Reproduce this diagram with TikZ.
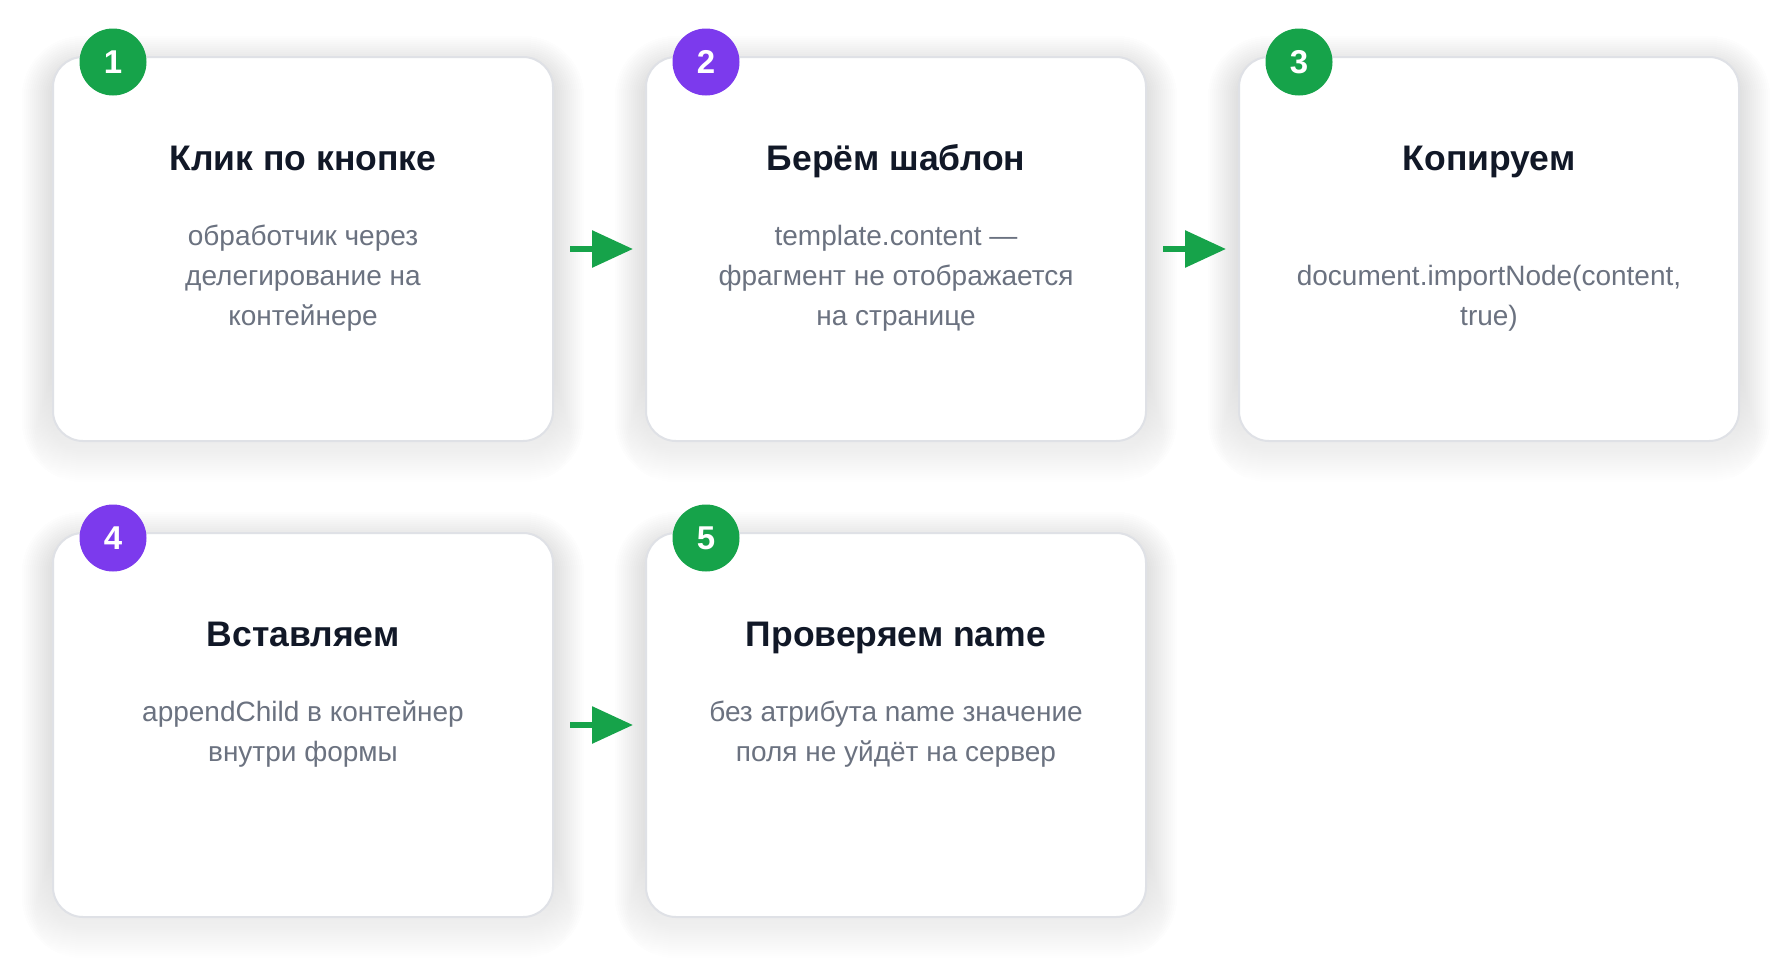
\documentclass[tikz,border=0pt]{standalone}
\usepackage{fontspec}
\setmainfont{Liberation Sans}
\usetikzlibrary{arrows.meta,backgrounds}

\definecolor{stepgreen}{HTML}{16A34A}
\definecolor{steppurple}{HTML}{7C3AED}
\definecolor{titleink}{HTML}{111827}
\definecolor{bodyink}{HTML}{6B7280}
\definecolor{cardline}{HTML}{DFE1E6}
\definecolor{shade}{HTML}{1F2937}

\tikzset{
    card/.style={draw=cardline, line width=2pt, fill=white, rounded corners=30pt,
        minimum width=500pt, minimum height=384pt, inner sep=0pt},
    badge/.style={circle, minimum size=67pt, inner sep=0pt, text=white,
        font=\bfseries\fontsize{33}{40}\selectfont},
    heading/.style={anchor=base, text=titleink, font=\bfseries\fontsize{35.5}{40}\selectfont},
    note/.style={anchor=base, align=center, text=bodyink, font=\fontsize{28}{40}\selectfont},
    flow/.style={stepgreen, line width=6pt, -{Triangle[length=41pt,width=36pt]},
        shorten <=16pt, shorten >=12pt},
}

\begin{document}
\begin{tikzpicture}[x=1pt,y=-1pt]
    \useasboundingbox(0,0)rectangle(1790,977);

    % cards
    \node[card](c1)at(303,249){};
    \node[card](c2)at(896,249){};
    \node[card](c3)at(1489,249){};
    \node[card](c4)at(303,725){};
    \node[card](c5)at(896,725){};

    % soft shadow
    \begin{scope}[on background layer]
        \fill[white](0,0)rectangle(1790,977);
        \foreach \c in {c1,c2,c3,c4,c5}
            \foreach \i in {0,2,...,30}
                \fill[shade, fill opacity=0.0022, rounded corners=30pt+\i pt]
                    ([shift={(-\i,10+\i)}]\c.south west)rectangle([shift={(\i,10-\i)}]\c.north east);
    \end{scope}

    % texts (note nodes sit on their last line)
    \node[heading](t1)at(303,170){Клик по кнопке};
    \node[note](n1)at(303,325){обработчик через\\делегирование на\\контейнере};
    \node[heading](t2)at(896,170){Берём шаблон};
    \node[note](n2)at(896,325){template.content —\\фрагмент не отображается\\на странице};
    \node[heading](t3)at(1489,170){Копируем};
    \node[note](n3)at(1489,325){document.importNode(content,\\true)};
    \node[heading](t4)at(303,646){Вставляем};
    \node[note](n4)at(303,761){appendChild в контейнер\\внутри формы};
    \node[heading](t5)at(896,646){Проверяем name};
    \node[note](n5)at(896,761){без атрибута name значение\\поля не уйдёт на сервер};

    % numbers
    \node[badge, fill=stepgreen](b1)at(113,62){1};
    \node[badge, fill=steppurple](b2)at(706,62){2};
    \node[badge, fill=stepgreen](b3)at(1299,62){3};
    \node[badge, fill=steppurple](b4)at(113,538){4};
    \node[badge, fill=stepgreen](b5)at(706,538){5};

    % arrows
    \draw[flow](c1)--(c2);
    \draw[flow](c2)--(c3);
    \draw[flow](c4)--(c5);
\end{tikzpicture}
\end{document}
